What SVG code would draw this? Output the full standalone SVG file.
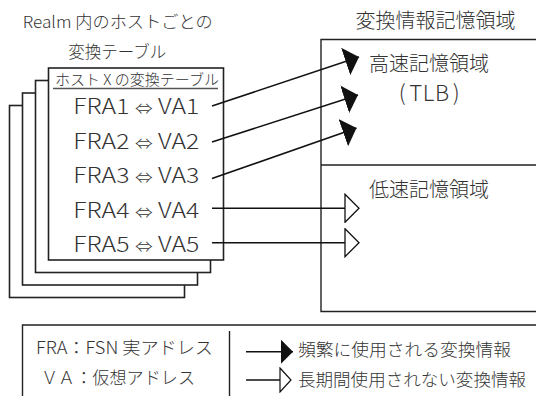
<svg xmlns="http://www.w3.org/2000/svg" width="536" height="396" viewBox="0 0 536 396">
<style>
text{font-family:"Noto Sans CJK JP","Liberation Sans",sans-serif;font-weight:300;fill:#333}
.card{fill:#fff;stroke:#222;stroke-width:1.6}
.box{fill:none;stroke:#222;stroke-width:1.4}
.row{font-size:21px}
.eq{font-size:15px}
.con{fill:none;stroke:#111;stroke-width:1.6}
.fill-head{marker-end:url(#aFill)}
.hollow-head{marker-end:url(#aHollow)}
.lg{font-size:17.5px}
</style>
<defs>
<marker id="aFill" markerUnits="userSpaceOnUse" viewBox="0 0 14 29" markerWidth="14" markerHeight="29" refX="14" refY="14.5" orient="auto">
<path d="M0,0 L14,14.5 L0,29 z" fill="#111"/>
</marker>
<marker id="aHollow" markerUnits="userSpaceOnUse" viewBox="-1 -1 16 30" markerWidth="16" markerHeight="30" refX="14" refY="14" orient="auto">
<path d="M0,0 L14,14 L0,28 z" fill="#fff" stroke="#111" stroke-width="1.3"/>
</marker>
<marker id="lFill" markerUnits="userSpaceOnUse" viewBox="0 0 12 24" markerWidth="12" markerHeight="24" refX="12" refY="12" orient="auto">
<path d="M0,0 L12,12 L0,24 z" fill="#111"/>
</marker>
<marker id="lHollow" markerUnits="userSpaceOnUse" viewBox="-1 -1 13 26" markerWidth="13" markerHeight="26" refX="11" refY="12" orient="auto">
<path d="M0,0 L11,12 L0,24 z" fill="#fff" stroke="#111" stroke-width="1.2"/>
</marker>
</defs>

<g id="title">
<text x="22.7" y="28" font-size="16.5" textLength="190" lengthAdjust="spacingAndGlyphs">Realm 内のホストごとの</text>
<text x="68.3" y="58" font-size="16.5" textLength="98" lengthAdjust="spacingAndGlyphs">変換テーブル</text>
</g>

<g id="host-tables">
<rect class="card" x="9.5" y="105.5" width="175" height="192"/>
<rect class="card" x="22.5" y="93" width="175" height="192"/>
<rect class="card" x="35.5" y="80.5" width="175" height="192"/>
<rect class="card" x="48.5" y="68" width="175" height="192"/>
<text x="55" y="85" font-size="14.5" textLength="164" lengthAdjust="spacingAndGlyphs">ホスト X の変換テーブル</text>
<line x1="53" y1="88.5" x2="218" y2="88.5" stroke="#555" stroke-width="1.4"/>
<text class="row" x="73.3" y="114" textLength="126" lengthAdjust="spacingAndGlyphs">FRA1 <tspan class="eq">⇔</tspan> VA1</text>
<text class="row" x="73.3" y="148.5" textLength="126" lengthAdjust="spacingAndGlyphs">FRA2 <tspan class="eq">⇔</tspan> VA2</text>
<text class="row" x="73.3" y="183" textLength="126" lengthAdjust="spacingAndGlyphs">FRA3 <tspan class="eq">⇔</tspan> VA3</text>
<text class="row" x="73.3" y="217.5" textLength="126" lengthAdjust="spacingAndGlyphs">FRA4 <tspan class="eq">⇔</tspan> VA4</text>
<text class="row" x="73.3" y="252" textLength="126" lengthAdjust="spacingAndGlyphs">FRA5 <tspan class="eq">⇔</tspan> VA5</text>
</g>

<g id="storage">
<text x="435.5" y="28" font-size="20" text-anchor="middle">変換情報記憶領域</text>
<path class="box" d="M537,39.5 H321 V311.5 H537 M321,165 H537"/>
</g>

<g id="fast-storage">
<text x="429" y="71" font-size="20" text-anchor="middle">高速記憶領域</text>
<text x="429.5" y="100.5" font-size="22" letter-spacing="0.6" text-anchor="middle">(<tspan dx="3">TLB</tspan><tspan dx="3">)</tspan></text>
</g>

<g id="slow-storage">
<text x="429" y="197" font-size="20" text-anchor="middle">低速記憶領域</text>
</g>

<g id="connectors">
<line class="con fill-head" x1="212" y1="106" x2="359" y2="57"/>
<line class="con fill-head" x1="212" y1="142" x2="358" y2="95"/>
<line class="con fill-head" x1="212" y1="178.5" x2="356.5" y2="128"/>
<line class="con hollow-head" x1="212" y1="208.3" x2="359" y2="208.3"/>
<line class="con hollow-head" x1="212" y1="242.7" x2="359" y2="242.7"/>
</g>

<g id="legend">
<path class="box" d="M537,325 H22.5 V397 M229.5,331 V397"/>
<text class="lg" x="36" y="353.5" textLength="177" lengthAdjust="spacingAndGlyphs">FRA：FSN 実アドレス</text>
<text class="lg" x="41" y="384" textLength="154" lengthAdjust="spacingAndGlyphs">ＶＡ：仮想アドレス</text>
<line class="con" x1="246" y1="351.7" x2="293" y2="351.7" marker-end="url(#lFill)"/>
<line class="con" x1="246" y1="380" x2="291" y2="380" marker-end="url(#lHollow)"/>
<text class="lg" x="298" y="356" textLength="213" lengthAdjust="spacingAndGlyphs">頻繁に使用される変換情報</text>
<text class="lg" x="298" y="385.5" textLength="228" lengthAdjust="spacingAndGlyphs">長期間使用されない変換情報</text>
</g>
</svg>
